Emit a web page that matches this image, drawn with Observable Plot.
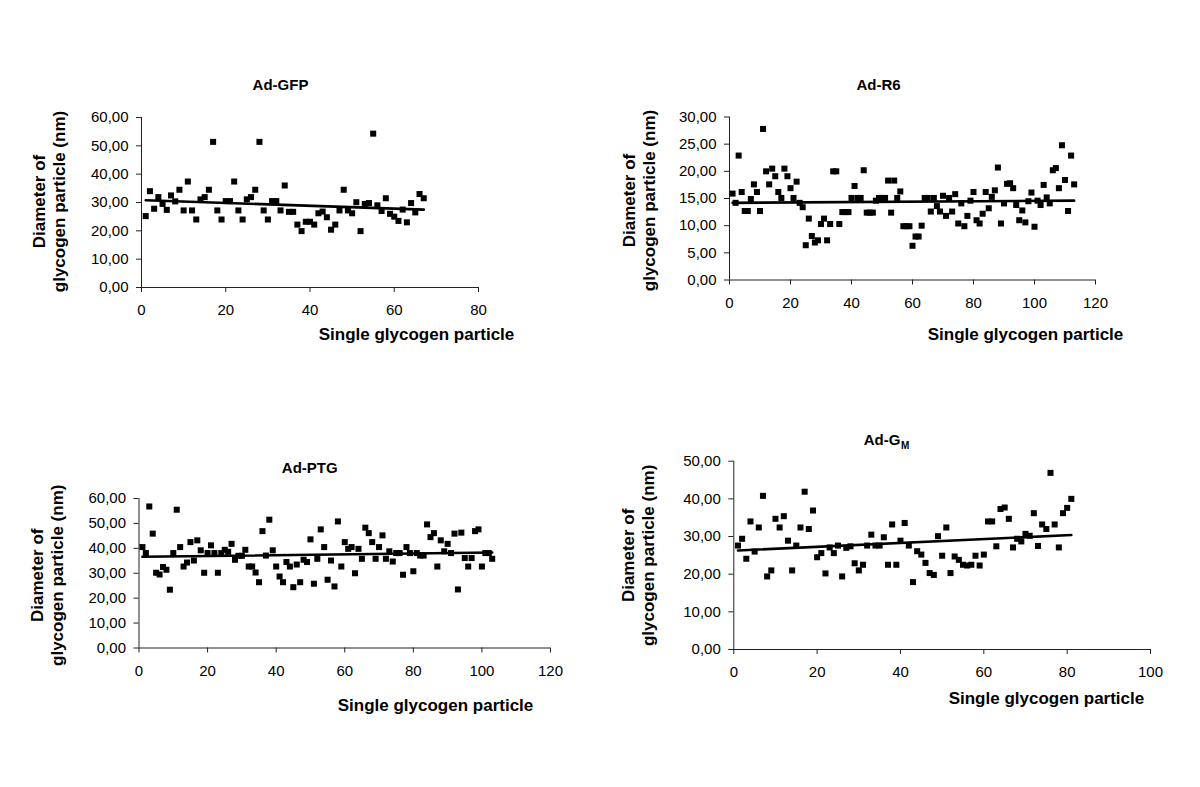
<!DOCTYPE html>
<html><head><meta charset="utf-8">
<script src="https://cdn.jsdelivr.net/npm/d3@7"></script>
<script src="https://cdn.jsdelivr.net/npm/@observablehq/plot@0.6"></script>
<style>
body{margin:0;background:#fff;}
#chart{position:relative;width:1200px;height:787px;overflow:hidden;background:#fff;}
#chart svg{position:absolute;}
</style></head><body><div id="chart"></div>
<script>
// ---- data (diameter of each single glycogen particle, nm) ----
const gfpValues = [25.2,34.0,27.8,31.9,29.5,27.4,32.5,30.4,34.5,27.2,
 37.4,27.2,24.0,31.1,31.9,34.5,51.4,27.2,24.0,30.5,
 30.5,37.4,27.2,24.0,31.1,31.9,34.5,51.4,27.2,24.0,
 30.5,30.5,27.2,36.0,26.7,26.7,22.2,19.9,23.2,23.2,
 22.2,26.2,26.8,24.8,20.4,22.2,27.2,34.5,27.2,26.2,
 30.1,19.9,29.5,29.8,54.3,29.0,27.0,31.5,26.0,25.0,
 23.5,27.5,23.0,29.8,26.5,33.0,31.5];
const r6Values = [15.9,14.2,22.9,16.2,12.7,12.7,14.9,17.6,16.2,12.7,
 27.8,20.0,17.6,20.5,19.1,16.2,15.1,20.5,19.1,16.9,
 15.1,18.1,14.2,13.4,6.4,11.3,8.1,6.9,7.3,10.3,
 11.3,7.3,10.3,20.0,20.0,10.3,12.5,12.5,12.5,15.1,
 17.3,15.1,15.1,20.2,12.4,12.4,12.4,14.6,15.1,15.1,
 15.1,18.3,12.4,18.3,15.1,16.3,9.9,9.9,9.9,6.3,
 8.0,8.0,10.0,15.1,15.1,12.6,15.1,13.6,12.6,15.5,
 11.8,15.1,12.6,15.8,10.4,14.1,9.9,11.8,14.6,16.2,
 11.0,10.4,12.2,16.2,13.2,15.3,16.5,20.7,10.4,14.1,
 17.7,17.8,16.9,13.8,11.0,12.8,10.6,14.5,16.1,9.8,
 14.6,13.8,17.5,15.2,14.1,20.2,20.6,16.9,24.8,18.4,
 12.7,22.9,17.6];
const ptgValues = [40.5,38.1,56.8,45.9,30.2,29.5,32.5,31.4,23.4,38.1,
 55.5,40.5,32.7,34.3,42.5,35.1,43.2,39.2,30.2,38.1,
 41.2,38.1,30.2,38.1,39.4,38.6,41.8,35.4,37.0,37.0,
 39.4,32.7,32.7,30.3,26.4,46.9,37.1,51.5,39.2,32.7,
 28.7,26.4,34.5,32.7,24.4,33.5,26.4,35.4,34.5,43.6,
 25.8,35.8,47.6,40.5,27.4,35.1,24.7,50.8,32.7,42.5,
 39.8,40.5,30.0,39.8,35.8,48.3,46.1,42.5,35.8,40.5,
 45.2,35.8,38.8,34.7,38.1,38.1,29.4,40.5,38.1,30.8,
 38.1,37.1,37.1,49.6,44.5,46.1,32.7,43.2,38.8,41.8,
 38.1,45.9,23.5,46.3,36.1,32.7,36.1,46.9,47.6,32.7,
 38.1,38.1,35.8];
const gmValues = [27.6,29.4,24.1,34.0,26.0,32.4,40.8,19.4,21.0,34.7,
 32.4,35.4,28.9,21.0,27.6,32.4,41.9,32.0,36.9,24.5,
 25.6,20.2,27.1,25.6,27.6,19.4,27.0,27.4,22.9,21.0,
 22.5,27.6,30.5,27.6,27.6,29.8,22.5,33.2,22.5,28.9,
 33.6,27.6,17.9,26.1,25.2,23.0,20.3,19.8,30.1,24.9,
 32.4,20.3,24.7,23.8,22.5,22.3,22.5,24.9,22.3,25.2,
 34.0,34.0,27.4,37.3,37.7,34.7,27.1,29.4,28.7,30.7,
 30.2,36.2,27.5,33.2,32.0,46.9,33.2,27.1,36.2,37.6,
 40.0];
// linear trend line: value at first and at last particle
const gfpTrend = [30.8, 27.5];
const r6Trend = [14.2, 14.6];
const ptgTrend = [36.6, 38.3];
const gmTrend = [26.3, 30.4];
// ticks
const gfpXTicks = [0,20,40,60,80];
const gfpYTicks = [0,10,20,30,40,50,60];
const r6XTicks = [0,20,40,60,80,100,120];
const r6YTicks = [0,5,10,15,20,25,30];
const ptgXTicks = [0,20,40,60,80,100,120];
const ptgYTicks = [0,10,20,30,40,50,60];
const gmXTicks = [0,20,40,60,80,100];
const gmYTicks = [0,10,20,30,40,50];
// texts
const panelTitles = ["Ad-GFP","Ad-R6","Ad-PTG","Ad-G"];
const gmSubscript = "M";
const xTitle = "Single glycogen particle";
const yTitle = "Diameter of\nglycogen particle (nm)";

const FONT = "Arial, 'Liberation Sans', sans-serif";
const fmt = d => d3.format(".2f")(d).replace(".", ",");

function panel(o) {
  const pts = o.values.map((v, i) => ({x: i + 1, y: v}));
  const trend = [{x: 1, y: o.trend[0]}, {x: o.values.length, y: o.trend[1]}];
  const xMax = o.xTicks[o.xTicks.length - 1], yMax = o.yTicks[o.yTicks.length - 1];
  const marks = [
    Plot.ruleY([0], {stroke: "#222", strokeWidth: 1}),
    Plot.ruleX([0], {stroke: "#222", strokeWidth: 1}),
    Plot.axisX({ticks: o.xTicks, tickSize: 5, tickPadding: 12, tickFormat: d => String(d), label: null, fontSize: 15, stroke: "#222"}),
    Plot.axisY({ticks: o.yTicks, tickSize: 5, tickPadding: 8, tickFormat: fmt, label: null, fontSize: 15, stroke: "#222"}),
    Plot.line(trend, {x: "x", y: "y", stroke: "black", strokeWidth: 2.6}),
    Plot.dot(pts, {x: "x", y: "y", symbol: "square", r: 3.4, fill: "black", stroke: "none"}),
    Plot.text([o.title], {frameAnchor: "top", dx: o.tdx, dy: o.tdy, fontSize: 15, fontWeight: "bold", textAnchor: o.sub ? "end" : "middle", lineAnchor: "middle"}),
    Plot.text([xTitle], {frameAnchor: "bottom", dx: o.xdx, dy: o.xdy, fontSize: 17, fontWeight: "bold", textAnchor: "middle", lineAnchor: "middle"}),
    Plot.text([yTitle], {frameAnchor: "left", dx: o.ydx, dy: o.ydy, fontSize: 17, fontWeight: "bold", rotate: -90, lineHeight: 1.2, textAnchor: "middle", lineAnchor: "middle"})
  ];
  if (o.sub) marks.push(Plot.text([o.sub], {frameAnchor: "top", dx: o.tdx + 0.5, dy: o.tdy + 5, fontSize: 10, fontWeight: "bold", textAnchor: "start", lineAnchor: "middle"}));
  const svg = Plot.plot({
    width: o.width, height: o.height,
    marginLeft: o.mL, marginRight: o.mR, marginTop: o.mT, marginBottom: o.mB,
    x: {domain: [0, xMax]},
    y: {domain: [0, yMax]},
    style: {fontFamily: FONT, color: "black", background: "transparent", overflow: "visible"},
    marks
  });
  svg.style.left = o.left + "px";
  svg.style.top = o.top + "px";
  document.getElementById("chart").appendChild(svg);
}

panel({values: gfpValues, trend: gfpTrend, xTicks: gfpXTicks, yTicks: gfpYTicks, title: panelTitles[0],
  left: 0, top: 0, width: 600, height: 393, mL: 141, mR: 122, mT: 117, mB: 106,
  tdx: -29.5, tdy: -32, xdx: 106.5, xdy: 47, ydx: -93, ydy: -1});
panel({values: r6Values, trend: r6Trend, xTicks: r6XTicks, yTicks: r6YTicks, title: panelTitles[1],
  left: 600, top: 0, width: 600, height: 393, mL: 129, mR: 105, mT: 116.5, mB: 113.5,
  tdx: -34, tdy: -31.5, xdx: 113, xdy: 54.5, ydx: -91, ydy: 2});
panel({values: ptgValues, trend: ptgTrend, xTicks: ptgXTicks, yTicks: ptgYTicks, title: panelTitles[2],
  left: 0, top: 393, width: 600, height: 394, mL: 138.5, mR: 50, mT: 105, mB: 139.5,
  tdx: -35, tdy: -30, xdx: 90.75, xdy: 57.5, ydx: -92.5, ydy: 2});
panel({values: gmValues, trend: gmTrend, xTicks: gmXTicks, yTicks: gmYTicks, title: panelTitles[3], sub: gmSubscript,
  left: 600, top: 393, width: 600, height: 394, mL: 133.3, mR: 50, mT: 67.7, mB: 138,
  tdx: -41.7, tdy: -20.7, xdx: 104.3, xdy: 49, ydx: -96.3, ydy: 0});
</script></body></html>
